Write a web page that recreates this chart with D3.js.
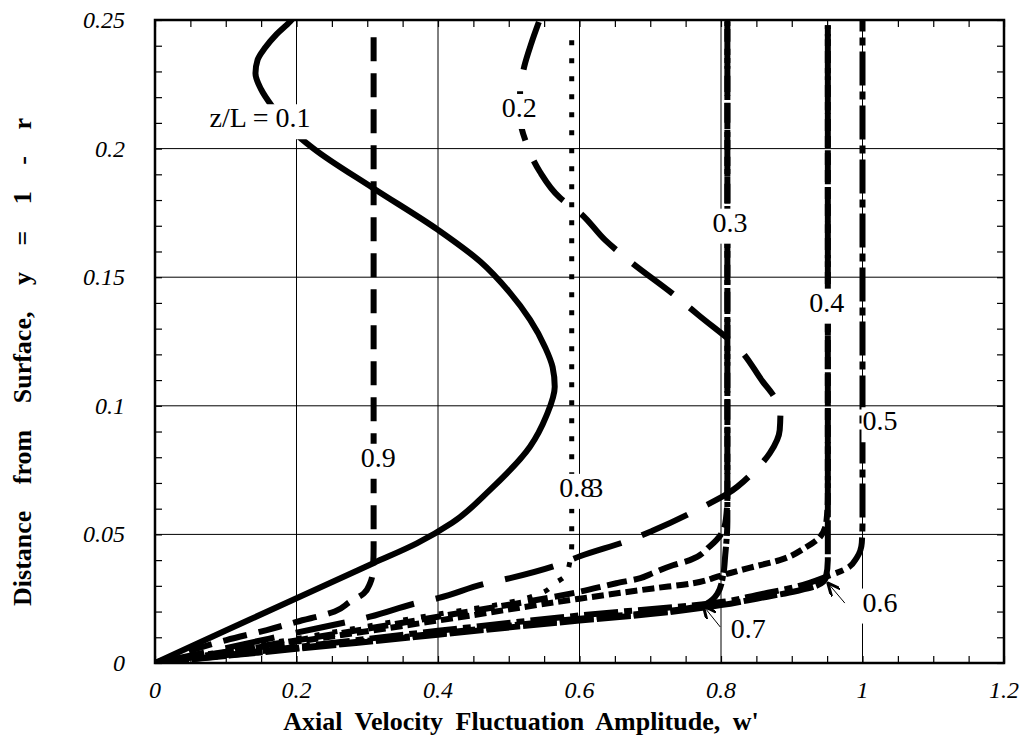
<!DOCTYPE html>
<meta charset="utf-8">
<style>
body { margin: 0; background: #fff; }
text { font-family: "Liberation Serif", "Times New Roman", serif; fill: #000; }
.tick-label { font-size: 24px; font-style: italic; }
.curve-label { font-size: 28px; }
.axis-title { font-size: 26px; font-weight: bold; }
</style>
<body>
<svg width="1026" height="750"></svg>
<script src="https://d3js.org/d3.v7.min.js"></script>
<script>

// tick labels
var xTicks = [0, 0.2, 0.4, 0.6, 0.8, 1, 1.2];
var yTicks = [0, 0.05, 0.1, 0.15, 0.2, 0.25];

// profiles w'(y), one per z/L as [w', y]
var z01 = [[0,0],[0.1,0.0126],[0.2,0.0252],[0.3085,0.0388],[0.37,0.0465],[0.42,0.0545],[0.4735,0.0673],[0.53,0.0841],[0.553,0.096],
  [0.565,0.1074],[0.562,0.115],[0.551,0.123],[0.53,0.1335],[0.50,0.1445],[0.46,0.156],[0.4,0.1684],[0.3085,0.1846],
  [0.2237,0.2001],[0.19,0.208],[0.168,0.2155],[0.150,0.223],[0.142,0.2293],[0.145,0.2345],[0.155,0.239],[0.172,0.2445],
  [0.191,0.2494],[0.196,0.251]];
var z02 = [[0,0],[0.1,0.0058],[0.2,0.0118],[0.304,0.018],[0.37,0.0233],[0.4,0.0252],[0.469,0.031],[0.502,0.033],
  [0.568,0.038],[0.6007,0.0415],[0.671,0.0478],[0.704,0.0515],[0.775,0.0608],[0.81,0.066],[0.845,0.074],[0.869,0.0816],
  [0.883,0.0906],[0.884,0.098],[0.874,0.104],[0.859,0.1094],[0.827,0.1217],[0.768,0.1353],[0.737,0.1424],[0.669,0.1567],
  [0.636,0.1645],[0.6007,0.175],[0.572,0.181],[0.544,0.191],[0.525,0.202],[0.516,0.212],[0.516,0.222],[0.522,0.232],
  [0.532,0.241],[0.545,0.251]];
var z03 = [[0,0],[0.2,0.0088],[0.4,0.018],[0.6,0.0277],[0.652,0.031],[0.686,0.033],[0.704,0.035],[0.732,0.038],
  [0.756,0.040],[0.784,0.0453],[0.800,0.050],[0.807,0.056],[0.809,0.065],[0.809,0.1],[0.809,0.2],[0.809,0.251]];
var z04 = [[0,0],[0.2,0.0083],[0.4,0.0165],[0.6,0.025],[0.704,0.029],[0.76,0.031],[0.8,0.034],[0.84,0.037],
  [0.883,0.040],[0.92,0.045],[0.94,0.049],[0.949,0.055],[0.951,0.065],[0.951,0.1],[0.951,0.2],[0.951,0.248]];
var z05 = [[0,0],[0.2,0.0062],[0.4,0.0125],[0.6,0.0185],[0.803,0.0238],[0.85,0.0264],[0.907,0.0297],[0.949,0.0336],
  [0.978,0.0368],[0.992,0.041],[0.999,0.0467],[1.0,0.055],[1.0,0.1],[1.0,0.2],[1.0,0.251]];
var z06 = [[0,0],[0.2,0.0055],[0.4,0.011],[0.6,0.0165],[0.7,0.019],[0.8,0.0225],[0.85,0.025],[0.907,0.028],
  [0.935,0.030],[0.948,0.033],[0.951,0.040],[0.951,0.1],[0.951,0.2],[0.951,0.248]];
var z07 = [[0,0],[0.2,0.0058],[0.4,0.0115],[0.6,0.0172],[0.7,0.0195],[0.775,0.0225],[0.795,0.027],[0.803,0.034],
  [0.806,0.042],[0.809,0.055],[0.809,0.1],[0.809,0.2],[0.809,0.251]];
var z08 = [[0,0],[0.2,0.0095],[0.4,0.019],[0.5,0.0235],[0.55,0.0277],[0.565,0.031],[0.579,0.0336],[0.586,0.0388],
  [0.589,0.046],[0.589,0.1],[0.589,0.2],[0.589,0.246]];
var z09 = [[0,0],[0.101,0.0089],[0.158,0.0128],[0.2,0.016],[0.254,0.020],[0.2756,0.0238],[0.295,0.027],[0.304,0.031],
  [0.308,0.036],[0.309,0.045],[0.309,0.1],[0.309,0.2],[0.309,0.2455]];

// labels: text, position [w', y]
var labelText = ["z/L = 0.1", "0.2", "0.3", "0.4", "0.5", "0.6", "0.7", "0.8", "0.9"];
var labelPos = [[0.1485,0.2083],[0.515,0.2123],[0.8126,0.1677],[0.9493,0.1366],[1.0247,0.0905],[1.0247,0.0200],[0.8385,0.0096],[0.5960,0.0646],[0.3156,0.0763]];
// arrows for 0.6 and 0.7: from [w', y] to [w', y]
var arrowFrom = [[0.975,0.0233],[0.799,0.0140]];
var arrowTo = [[0.951,0.0311],[0.775,0.0222]];

var svg = d3.select("svg");
var pl = 155, pr = 1004, pt = 20, pb = 663;

var x = d3.scaleLinear().domain([0, 1.2]).range([pl, pr]);
var y = d3.scaleLinear().domain([0, 0.25]).range([pb, pt]);

var defs = svg.append("defs");
defs.append("clipPath").attr("id", "plot")
  .append("rect").attr("x", pl).attr("y", pt).attr("width", pr - pl).attr("height", pb - pt);

// grid
svg.append("g").selectAll("line").data(xTicks.slice(1, -1)).enter().append("line")
  .attr("x1", d => x(d)).attr("x2", d => x(d)).attr("y1", pt).attr("y2", pb)
  .attr("stroke", "#000").attr("stroke-width", 1);
svg.append("g").selectAll("line").data(yTicks.slice(1, -1)).enter().append("line")
  .attr("y1", d => y(d)).attr("y2", d => y(d)).attr("x1", pl).attr("x2", pr)
  .attr("stroke", "#000").attr("stroke-width", 1);

// minor ticks, inward on all four sides
var xMinor = d3.range(0, 25).map(i => i * 0.05);
var yMinor = d3.range(0, 26).map(i => i * 0.01);
function ticksOnly(axis, tr) {
  var g = svg.append("g").attr("transform", tr).call(axis);
  g.select(".domain").remove();
  g.selectAll("line").attr("stroke", "#000").attr("stroke-width", 1.2);
}
ticksOnly(d3.axisBottom(x).tickValues(xMinor).tickSize(-7).tickFormat(""), "translate(0," + pb + ")");
ticksOnly(d3.axisTop(x).tickValues(xMinor).tickSize(-7).tickFormat(""), "translate(0," + pt + ")");
ticksOnly(d3.axisLeft(y).tickValues(yMinor).tickSize(-7).tickFormat(""), "translate(" + pl + ",0)");
ticksOnly(d3.axisRight(y).tickValues(yMinor).tickSize(-7).tickFormat(""), "translate(" + pr + ",0)");

// curves (y rises along every profile, so monotone in y keeps them smooth)
var line = d3.line().x(d => x(d[0])).y(d => y(d[1])).curve(d3.curveMonotoneY);
var curves = [
  { pts: z01, dash: null, w: 6 },
  { pts: z02, dash: "50,22", w: 6 },
  { pts: z03, dash: "20,7", w: 6 },
  { pts: z04, dash: "12,5", w: 6 },
  { pts: z05, dash: "34,6,8,6", w: 6 },
  { pts: z06, dash: "34,3", w: 6 },
  { pts: z07, dash: "26,3,5,3", w: 6 },
  { pts: z08, dash: "5,13", w: 5 },
  { pts: z09, dash: "24,12", w: 6 }
];
var cg = svg.append("g").attr("clip-path", "url(#plot)");
curves.forEach(function(c) {
  cg.append("path").attr("d", line(c.pts))
    .attr("fill", "none").attr("stroke", "#000")
    .attr("stroke-width", c.w)
    .attr("stroke-dasharray", c.dash)
    .attr("stroke-linecap", "butt")
    .attr("stroke-linejoin", "round");
});

// arrows
defs.append("marker").attr("id", "head").attr("viewBox", "0 0 14 12")
  .attr("refX", 13).attr("refY", 6).attr("markerWidth", 14).attr("markerHeight", 12)
  .attr("markerUnits", "userSpaceOnUse").attr("orient", "auto")
  .append("path").attr("d", "M0,0 L13,6 L0,12").attr("fill", "none").attr("stroke", "#000").attr("stroke-width", 3);
arrowFrom.forEach(function(f, i) {
  svg.append("line")
    .attr("x1", x(f[0])).attr("y1", y(f[1]))
    .attr("x2", x(arrowTo[i][0])).attr("y2", y(arrowTo[i][1]))
    .attr("stroke", "#000").attr("stroke-width", 1)
    .attr("marker-end", "url(#head)");
});

// curve labels on white boxes
labelText.forEach(function(t, i) {
  var g = svg.append("g");
  var txt = g.append("text").attr("class", "curve-label")
    .attr("x", x(labelPos[i][0])).attr("y", y(labelPos[i][1]))
    .attr("text-anchor", "middle").text(t);
  var b = txt.node().getBBox();
  g.insert("rect", "text").attr("x", b.x - 1).attr("y", b.y + 2)
    .attr("width", b.width + 2).attr("height", b.height + 4).attr("fill", "#fff");
  if (t === "0.8") {
    g.append("text").attr("class", "curve-label")
      .attr("x", b.x + b.width - 5).attr("y", y(labelPos[i][1])).text("3");
  }
});

// frame
svg.append("rect").attr("x", pl).attr("y", pt).attr("width", pr - pl).attr("height", pb - pt)
  .attr("fill", "none").attr("stroke", "#000").attr("stroke-width", 2.5);

// tick labels
svg.append("g").selectAll("text").data(xTicks).enter().append("text")
  .attr("class", "tick-label").attr("x", d => x(d)).attr("y", pb + 35)
  .attr("text-anchor", "middle").text(d => d3.format("")(d));
svg.append("g").selectAll("text").data(yTicks).enter().append("text")
  .attr("class", "tick-label").attr("x", pl - 30).attr("y", d => y(d) + 8)
  .attr("text-anchor", "end").text(d => d3.format("")(d));

// axis titles
svg.append("text").attr("class", "axis-title")
  .attr("x", 521).attr("y", 730).attr("text-anchor", "middle")
  .style("word-spacing", "6px")
  .text("Axial Velocity Fluctuation Amplitude, w'");
svg.append("text").attr("class", "axis-title")
  .attr("transform", "translate(31,362) rotate(-90)").attr("text-anchor", "middle")
  .style("word-spacing", "20px")
  .text("Distance from Surface, y = 1 - r");

</script>
</body>
